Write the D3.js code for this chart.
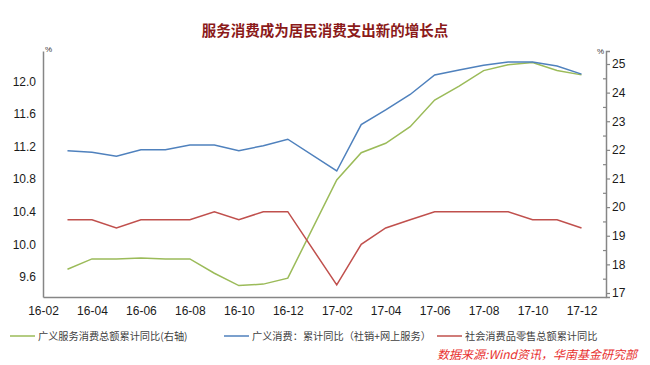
<!DOCTYPE html>
<html><head><meta charset="utf-8">
<script src="https://cdn.jsdelivr.net/npm/d3@7"></script>
<style>
body{margin:0;background:#fff;}
svg{display:block;font-family:"Liberation Sans","Noto Sans",sans-serif;}
</style></head>
<body><svg id="c" width="650" height="365"></svg>
<script>
const months = ["16-03","16-04","16-05","16-06","16-07","16-08","16-09","16-10","16-11","16-12",
  "17-02","17-03","17-04","17-05","17-06","17-07","17-08","17-09","17-10","17-11","17-12"];
const serviceTotal = [17.83,18.19,18.19,18.22,18.19,18.19,17.69,17.26,17.31,17.52,
  20.95,21.90,22.23,22.81,23.74,24.23,24.77,24.97,25.05,24.77,24.62];
const broadConsumption = [11.15,11.13,11.08,11.16,11.16,11.22,11.22,11.15,11.21,11.29,
  10.90,11.47,11.65,11.84,12.08,12.14,12.20,12.24,12.24,12.19,12.09];
const retailSales = [10.3,10.3,10.2,10.3,10.3,10.3,10.4,10.3,10.4,10.4,
  9.5,10.0,10.2,10.3,10.4,10.4,10.4,10.4,10.3,10.3,10.2];
const xTickLabels = ["16-02","16-04","16-06","16-08","16-10","16-12","17-02","17-04","17-06","17-08","17-10","17-12"];
const leftTicks = [9.6,10.0,10.4,10.8,11.2,11.6,12.0];
const rightTicks = [17,18,19,20,21,22,23,24,25];
const seriesNames = ["广义服务消费总额累计同比(右轴)","广义消费：累计同比（社销+网上服务）","社会消费品零售总额累计同比"];
const colors = ["#9BBB59","#4F81BD","#C0504D"];

const svg = d3.select("#c");
const monthIdx = s => { const [y,m] = s.split("-").map(Number); return (y-16)*12 + (m-2); };
const x = d3.scaleLinear().domain([0,23]).range([43,606]);
const yL = d3.scaleLinear().domain([9.352,12.374]).range([297,51]);
const yR = d3.scaleLinear().domain([16.86,25.454]).range([297,51]);

// title
svg.append("text").attr("x",325).attr("y",36).attr("text-anchor","middle")
  .attr("font-size",14.5).attr("font-weight","bold").attr("fill","#8B1A1A")
  .attr("font-family","'Noto Sans CJK SC',sans-serif").text("服务消费成为居民消费支出新的增长点");

const axisColor = "#868686";
const gL = svg.append("g").attr("transform","translate(43,0)")
  .call(d3.axisLeft(yL).tickValues(leftTicks).tickSize(0).tickPadding(7).tickFormat(d3.format(".1f")));
const gR = svg.append("g").attr("transform","translate(606,0)")
  .call(d3.axisRight(yR).tickValues(rightTicks).tickSize(4).tickPadding(2).tickFormat(d3.format("d")));
const gRm = svg.append("g").attr("transform","translate(606,0)")
  .call(d3.axisRight(yR).tickValues(rightTicks.slice(0,-1).map(v=>v+0.5)).tickSize(-3).tickFormat(""));
const gB = svg.append("g").attr("transform","translate(0,297)")
  .call(d3.axisBottom(x).tickValues(xTickLabels.map(monthIdx)).tickSize(0).tickPadding(9)
    .tickFormat(i => xTickLabels[xTickLabels.map(monthIdx).indexOf(i)]));
[gL,gR,gRm,gB].forEach(g=>{
  g.select(".domain").attr("stroke",axisColor).attr("stroke-width",1.5);
  g.selectAll(".tick line").attr("stroke",axisColor).attr("stroke-width",1.2);
  g.selectAll("text").attr("fill","#1a1a1a").attr("font-size",12).attr("font-family","'Liberation Sans',sans-serif");
});
gRm.select(".domain").remove();

svg.append("text").attr("x",45).attr("y",52).attr("font-size",8).attr("fill","#333").text("%");
svg.append("text").attr("x",597).attr("y",54).attr("font-size",8).attr("fill","#333").text("%");

const mk = (vals, ys) => d3.line().x((d,i)=>x(monthIdx(months[i]))).y(d=>ys(d))(vals);
svg.append("path").attr("d",mk(serviceTotal,yR)).attr("fill","none").attr("stroke",colors[0]).attr("stroke-width",1.5);
svg.append("path").attr("d",mk(broadConsumption,yL)).attr("fill","none").attr("stroke",colors[1]).attr("stroke-width",1.5);
svg.append("path").attr("d",mk(retailSales,yL)).attr("fill","none").attr("stroke",colors[2]).attr("stroke-width",1.5);

const legX = [10,224,437];
seriesNames.forEach((n,i)=>{
  svg.append("line").attr("x1",legX[i]).attr("x2",legX[i]+25).attr("y1",336).attr("y2",336)
    .attr("stroke",colors[i]).attr("stroke-width",1.5);
  svg.append("text").attr("x",legX[i]+28).attr("y",340).attr("font-size",10.2).attr("fill","#404040")
    .attr("font-family","'Noto Sans CJK SC',sans-serif").text(n);
});
svg.append("text").attr("x",637).attr("y",359).attr("text-anchor","end").attr("font-size",12)
  .attr("font-style","italic").attr("fill","#E8312F").attr("font-family","'Noto Sans CJK SC',sans-serif")
  .text("数据来源:Wind资讯，华南基金研究部");
</script></body></html>
